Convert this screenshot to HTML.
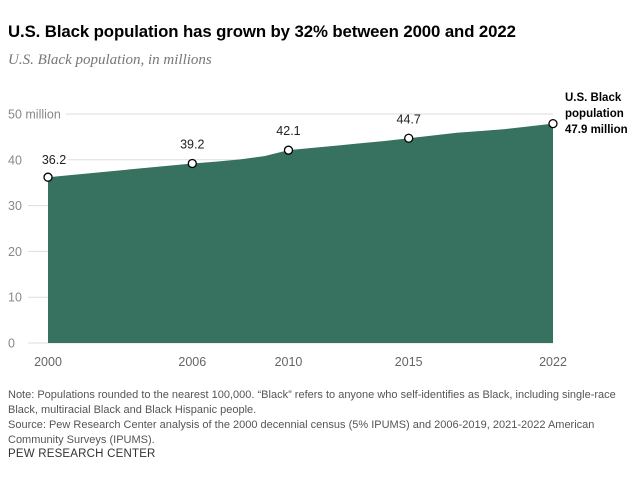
<!DOCTYPE html>
<html><head><meta charset="utf-8"><style>
body{margin:0;background:#fff;width:640px;height:485px;overflow:hidden;font-family:"Liberation Sans",Arial,sans-serif}
.t{position:absolute;left:8px;top:22px;font-size:16.8px;font-weight:bold;color:#000;letter-spacing:-0.1px}
.s{position:absolute;left:8px;top:52px;font-family:"Liberation Serif",serif;font-style:italic;font-size:15px;color:#777}
.n{position:absolute;left:8px;top:388px;font-size:11px;line-height:15px;color:#555;width:625px}
.p{position:absolute;left:8px;top:448px;font-size:11.5px;color:#333;letter-spacing:0.2px}
svg{position:absolute;left:0;top:0}
</style></head><body>
<div class="t">U.S. Black population has grown by 32% between 2000 and 2022</div>
<div class="s">U.S. Black population, in millions</div>
<svg width="640" height="485" id="c"></svg>
<div class="n">Note: Populations rounded to the nearest 100,000. “Black” refers to anyone who self-identifies as Black, including single-race Black, multiracial Black and Black Hispanic people.<br>Source: Pew Research Center analysis of the 2000 decennial census (5% IPUMS) and 2006-2019, 2021-2022 American Community Surveys (IPUMS).</div>
<div class="p">PEW RESEARCH CENTER</div>
<script>
const years=[2000,2006,2007,2008,2009,2010,2011,2012,2013,2014,2015,2016,2017,2018,2019,2021,2022];
const values=[36.2,39.2,39.6,40.1,40.8,42.1,42.6,43.1,43.6,44.1,44.7,45.3,45.9,46.3,46.7,47.3,47.9];
const labeledYears=[2000,2006,2010,2015,2022];
const yTicks=[0,10,20,30,40,50];
const xTicks=[2000,2006,2010,2015,2022];
const svg=document.getElementById('c');const NS='http://www.w3.org/2000/svg';
function pos(yr){return yr>2020?yr-2001:yr-2000;}
const X0=48,X1=553,Y0=343,Y1=114;
function x(yr){return X0+(pos(yr)-pos(years[0]))/(pos(2022)-pos(2000))*(X1-X0);}
function y(v){return Y0-(v/50)*(Y0-Y1);}
function mk(tag,a,txt){const e=document.createElementNS(NS,tag);for(const k in a)e.setAttribute(k,a[k]);if(txt!==undefined)e.textContent=txt;svg.appendChild(e);return e;}
yTicks.forEach(t=>{
 const lx=t===50?66:(t===40?68:28);
 const g=mk('line',{x1:lx,x2:X1,y1:y(t),y2:y(t),stroke:'#ddd','stroke-width':1});
 
 
 const l=mk('text',{x:8,y:y(t)+4.5,'font-size':12.5,fill:'#888'},t===50?'50 million':String(t));
 
 
});
let d='M'+x(years[0])+','+y(0);
years.forEach((yr,i)=>{d+=' L'+x(yr)+','+y(values[i]);});
d+=' L'+x(years[years.length-1])+','+y(0)+' Z';
const a=mk('path',{d:d,fill:'#36725f'});


xTicks.forEach(t=>{
 const l=mk('text',{x:x(t),y:366,'font-size':12.5,fill:'#666','text-anchor':'middle'},String(t));
 
 
});
labeledYears.forEach(yr=>{
 const v=values[years.indexOf(yr)];
 const c=mk('circle',{cx:x(yr),cy:y(v),r:4,fill:'#fff',stroke:'#000','stroke-width':1.3});
 
 
 if(yr!==2022){
  const l=mk('text',{x:x(yr),y:y(v)-(yr===2000?13:15),'font-size':12.5,fill:'#222','text-anchor':'middle'},v.toFixed(1));
  if(yr===2000)l.setAttribute('x',x(yr)+6);
  
  
 }
});
const vEnd=values[values.length-1];
['U.S. Black','population',vEnd.toFixed(1)+' million'].forEach((s,i)=>{
 const l=mk('text',{x:565,y:101+i*16,'font-size':11.5,'font-weight':'bold',fill:'#000'},s);
 
 
});
</script>
</body></html>
